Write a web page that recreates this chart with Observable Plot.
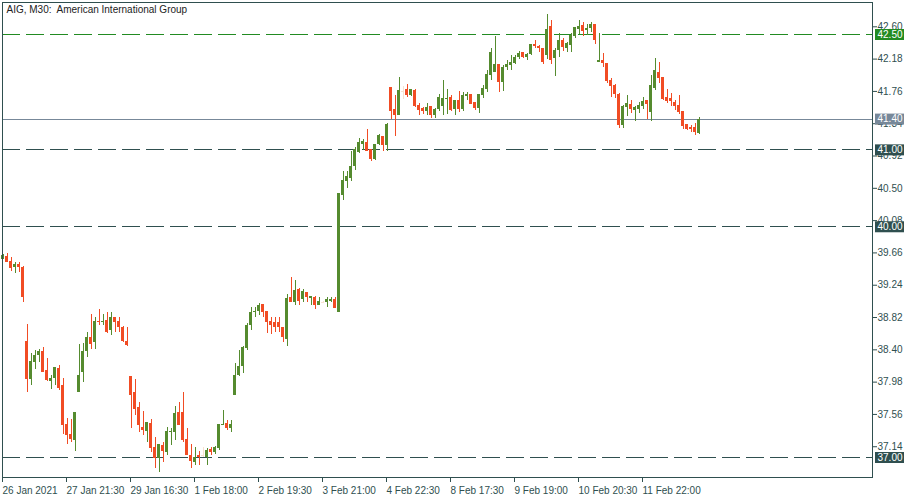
<!DOCTYPE html>
<html><head><meta charset="utf-8">
<script src="https://cdn.jsdelivr.net/npm/d3@7"></script>
<script src="https://cdn.jsdelivr.net/npm/@observablehq/plot@0.6"></script>
<style>body{margin:0;background:#fff}</style>
</head><body><div id="chart"></div>
<script>
// AIG, M30 candles (26 Jan 2021 20:00 .. 12 Feb 2021 22:30)
const opens = [39.58,39.61,39.55,39.47,39.51,39.47,38.51,38.01,38.23,38.32,38.38,38.13,37.99,38.03,38.16,37.94,37.43,37.30,37.22,37.84,
38.10,38.38,38.56,38.49,38.77,38.75,38.78,38.65,38.82,38.77,38.69,38.51,38.05,37.84,37.65,37.39,37.34,37.44,37.13,36.99,
37.16,37.07,37.32,37.33,37.58,37.58,37.23,37.03,36.94,37.02,37.03,37.00,37.10,37.07,37.12,37.41,37.44,37.38,37.81,38.06,
38.18,38.42,38.72,38.88,38.90,38.99,38.90,38.77,38.75,38.75,38.69,38.54,39.08,39.02,39.18,39.05,39.14,39.07,39.08,38.98,
39.02,39.02,39.03,39.05,38.89,40.41,40.59,40.63,40.78,40.97,41.07,41.10,41.00,40.87,41.07,41.17,41.06,41.81,41.52,41.45,
41.76,41.79,41.71,41.77,41.58,41.54,41.50,41.56,41.45,41.52,41.56,41.67,41.68,41.52,41.64,41.52,41.70,41.72,41.62,41.54,
41.71,41.78,41.97,42.00,42.11,41.88,42.07,42.10,42.12,42.20,42.27,42.20,42.24,42.37,42.34,42.32,42.23,42.60,42.19,42.29,
42.42,42.32,42.36,42.47,42.56,42.62,42.55,42.58,42.63,42.14,42.16,42.12,41.90,41.84,41.72,41.32,41.55,41.59,41.51,41.52,
41.56,41.64,41.49,41.80,42.01,41.94,41.68,41.67,41.62,41.58,41.50,41.33,41.29,41.29,41.21];
const highs = [39.64,39.65,39.60,39.53,39.53,39.48,38.73,38.35,38.39,38.41,38.43,38.29,38.07,38.17,38.19,38.03,37.51,37.49,37.59,38.47,
38.48,38.62,38.86,38.82,38.93,38.86,38.88,38.88,38.82,38.82,38.70,38.69,38.05,38.01,37.71,37.60,37.45,37.49,37.26,37.17,
37.19,37.39,37.38,37.66,37.71,37.84,37.38,37.17,37.13,37.08,37.13,37.12,37.13,37.14,37.43,37.61,37.48,37.48,38.22,38.39,
38.44,38.74,38.95,38.95,39.00,38.99,38.90,38.82,38.82,38.82,38.69,39.12,39.34,39.30,39.20,39.18,39.14,39.09,39.09,39.08,
39.03,39.08,39.08,39.08,40.43,40.72,40.72,40.98,41.03,41.15,41.13,41.26,41.00,41.07,41.20,41.17,41.34,41.81,41.71,41.94,
41.82,41.85,41.79,41.78,41.60,41.55,41.60,41.56,41.54,41.72,41.90,41.79,41.71,41.64,41.76,41.75,41.75,41.72,41.62,41.72,
41.84,42.03,42.32,42.47,42.11,42.10,42.16,42.23,42.23,42.28,42.27,42.25,42.37,42.42,42.36,42.32,42.76,42.68,42.32,42.51,
42.45,42.40,42.51,42.59,42.68,42.66,42.63,42.66,42.63,42.51,42.25,42.12,41.93,41.85,41.73,41.58,41.71,41.64,41.56,41.62,
41.68,41.64,41.97,42.19,42.14,41.94,41.78,41.73,41.64,41.71,41.50,41.33,41.32,41.34,41.42];
const lows = [39.57,39.54,39.42,39.39,39.41,39.01,37.85,37.93,38.15,38.23,38.11,37.99,37.89,37.94,37.87,37.30,37.17,37.20,37.08,37.84,
37.97,38.30,38.41,38.41,38.72,38.72,38.61,38.58,38.62,38.62,38.50,38.44,37.38,37.54,37.33,37.29,37.20,37.07,36.86,36.80,
36.94,37.02,37.16,37.22,37.41,37.20,37.02,36.86,36.89,36.90,37.00,36.90,37.02,37.04,37.09,37.41,37.35,37.32,37.81,38.05,
38.09,38.39,38.65,38.82,38.85,38.82,38.61,38.60,38.62,38.63,38.50,38.44,39.02,38.98,38.98,39.02,39.02,38.97,38.93,38.97,
39.01,38.95,39.01,38.94,38.89,40.34,40.50,40.59,40.73,40.95,40.99,40.98,40.85,40.86,41.06,40.98,40.98,41.39,41.17,41.45,
41.66,41.68,41.69,41.55,41.45,41.46,41.45,41.41,41.41,41.50,41.45,41.46,41.50,41.45,41.49,41.50,41.64,41.59,41.51,41.47,
41.67,41.75,41.90,42.00,41.75,41.76,42.03,42.03,42.11,42.17,42.19,42.16,42.23,42.32,42.27,42.11,42.17,42.11,41.95,42.20,
42.28,42.27,42.27,42.45,42.50,42.47,42.49,42.53,42.37,42.14,42.07,41.86,41.68,41.67,41.28,41.28,41.43,41.47,41.37,41.47,
41.52,41.40,41.37,41.77,41.86,41.64,41.60,41.56,41.51,41.46,41.26,41.25,41.23,41.19,41.20];
const closes = [39.63,39.54,39.46,39.51,39.47,39.08,38.01,38.25,38.33,38.38,38.11,38.00,38.03,38.17,37.90,37.41,37.29,37.23,37.59,38.07,
38.38,38.56,38.47,38.77,38.76,38.77,38.62,38.82,38.75,38.69,38.51,38.46,37.81,37.63,37.41,37.35,37.45,37.12,36.99,37.17,
37.08,37.34,37.34,37.57,37.42,37.22,37.03,36.95,37.00,37.00,37.03,37.09,37.06,37.13,37.43,37.43,37.38,37.43,38.06,38.18,
38.43,38.72,38.88,38.90,38.97,38.88,38.76,38.72,38.69,38.69,38.56,39.07,39.02,39.17,39.03,39.16,39.08,39.09,38.98,39.03,
39.02,39.05,39.05,38.94,40.43,40.60,40.65,40.78,41.00,41.10,41.11,40.98,40.87,41.07,41.19,41.06,41.33,41.50,41.45,41.77,
41.76,41.71,41.79,41.56,41.51,41.50,41.55,41.45,41.52,41.68,41.67,41.68,41.51,41.64,41.52,41.71,41.72,41.59,41.54,41.72,
41.80,41.98,42.27,42.11,41.88,42.07,42.11,42.14,42.20,42.25,42.20,42.24,42.37,42.34,42.32,42.14,42.57,42.16,42.29,42.42,
42.33,42.38,42.49,42.59,42.60,42.54,42.58,42.63,42.42,42.16,42.12,41.89,41.82,41.72,41.32,41.56,41.60,41.52,41.55,41.58,
41.63,41.59,41.84,42.03,41.93,41.65,41.63,41.63,41.56,41.49,41.30,41.27,41.27,41.23,41.40];

const xTickIndex = [0,16,32,48,64,80,96,112,128,144,160];
const xTickLabels = ["26 Jan 2021","27 Jan 21:30","29 Jan 16:30","1 Feb 18:00","2 Feb 19:30","3 Feb 21:00","4 Feb 22:30","8 Feb 17:30","9 Feb 19:00","10 Feb 20:30","11 Feb 22:00"];
const yTicks = [42.60,42.18,41.76,41.34,40.92,40.50,40.08,39.66,39.24,38.82,38.40,37.98,37.56,37.14];
const resistanceLevels = [42.50];
const supportLevels = [41.00,40.00,37.00];
const title = "AIG, M30:\u00a0 American International Group";

const UP = "#558b2f", DOWN = "#f14c24", FLAT = "#f7e2cf";
const GREEN = "#228b22", SLATE = "#2f4f4f", BID = "#778899";

const data = opens.map((o, i) => ({i, o, h: highs[i], l: lows[i], c: closes[i]}));
const col = d => d.c > d.o ? UP : d.c < d.o ? DOWN : FLAT;
const bidPrice = closes[closes.length - 1];
const fmt = d => d.toFixed(2);

const chart = Plot.plot({
  width: 915, height: 500,
  marginLeft: 2, marginRight: 43, marginTop: 2, marginBottom: 23,
  style: {fontFamily: "'Liberation Sans', Arial, sans-serif", fontSize: "10px", background: "#fff", overflow: "visible"},
  x: {type: "linear", domain: [-0.125, 217.375], axis: null},
  y: {type: "linear", domain: [36.740, 42.916], axis: null},
  marks: [
    Plot.ruleY(resistanceLevels, {y: d => d, stroke: GREEN, strokeDasharray: "18,6", shapeRendering: "crispEdges"}),
    Plot.ruleY(supportLevels, {y: d => d, stroke: SLATE, strokeDasharray: "18,6", shapeRendering: "crispEdges"}),
    Plot.ruleY([bidPrice], {y: d => d, stroke: BID, shapeRendering: "crispEdges"}),
    Plot.ruleX(data, {x: "i", y1: "l", y2: "h", stroke: col, shapeRendering: "crispEdges"}),
    Plot.rect(data, {
      x1: d => d.i - 0.375, x2: d => d.i + 0.375,
      y1: "o", y2: d => Math.abs(d.c - d.o) < 0.013 ? d.o - 0.013 : d.c,
      fill: col, shapeRendering: "crispEdges"
    }),
    Plot.axisY(yTicks, {anchor: "right", tickSize: 4, tickPadding: 1, tickFormat: fmt, fontSize: 10, color: SLATE, label: null}),
    Plot.axisX(xTickIndex.map(i => i - 0.125), {anchor: "bottom", tickSize: 5, tickPadding: 4, textAnchor: "start",
      tickFormat: (d, k) => xTickLabels[k], fontSize: 10, color: SLATE, label: null}),
    Plot.frame({stroke: SLATE, shapeRendering: "crispEdges"}),
    Plot.ruleY(resistanceLevels, {y: d => d, stroke: GREEN, strokeWidth: 11, insetLeft: 873, insetRight: -32}),
    Plot.ruleY(supportLevels, {y: d => d, stroke: SLATE, strokeWidth: 11, insetLeft: 873, insetRight: -32}),
    Plot.ruleY([bidPrice], {y: d => d, stroke: BID, strokeWidth: 11, insetLeft: 873, insetRight: -32}),
    Plot.text([...resistanceLevels, ...supportLevels, bidPrice], {y: d => d, text: fmt, frameAnchor: "right", textAnchor: "start", dx: 5, fill: "#fff", fontSize: 10}),
    Plot.text([title], {text: d => d, frameAnchor: "top-left", textAnchor: "start", lineAnchor: "top", dx: 4, dy: 3, fill: "#222", fontSize: 10})
  ]
});
document.getElementById("chart").appendChild(chart);
</script>
</body></html>
